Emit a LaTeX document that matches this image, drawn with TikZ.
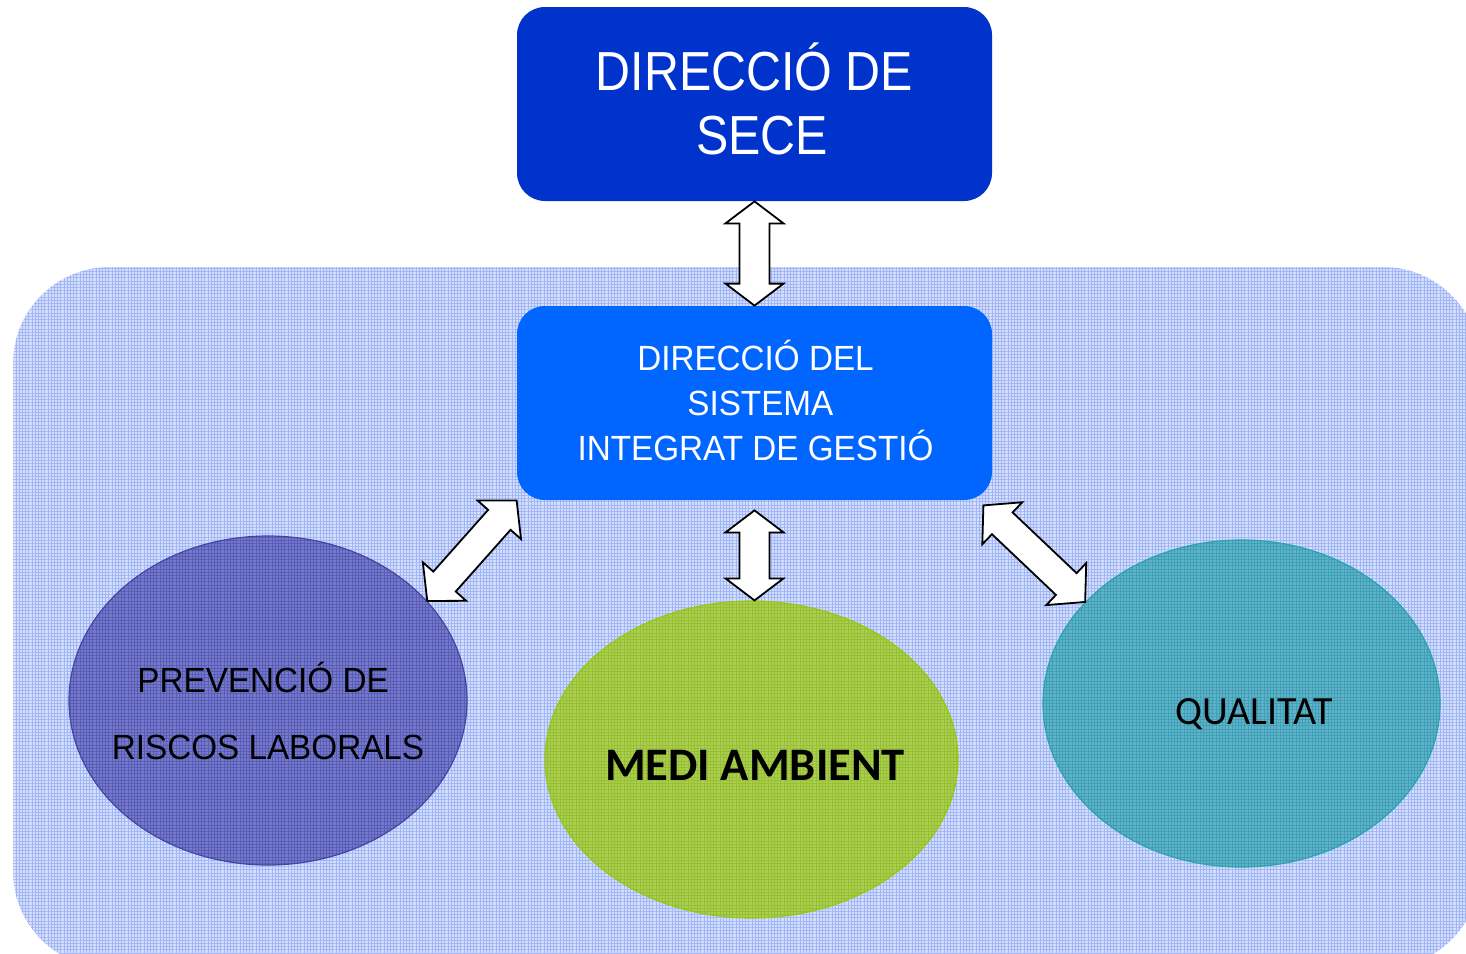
\documentclass[tikz,border=0pt]{standalone}
\usepackage{fontspec}
\usetikzlibrary{calc,shapes.geometric,patterns.meta}
\newfontfamily\condtop{Liberation Sans}[FakeStretch=0.88]
\newfontfamily\cond{Liberation Sans}[FakeStretch=0.95]
\newfontfamily\cali{Carlito}
\definecolor{bgfill}{RGB}{213,223,252}
\definecolor{bgline}{RGB}{160,182,246}
\definecolor{topblue}{RGB}{0,51,204}
\definecolor{midblue}{RGB}{0,102,255}
\definecolor{prlfill}{RGB}{118,122,205}
\definecolor{prlline}{RGB}{88,92,180}
\definecolor{prledge}{RGB}{70,70,160}
\definecolor{envfill}{RGB}{172,206,82}
\definecolor{envline}{RGB}{150,192,50}
\definecolor{envedge}{RGB}{150,200,20}
\definecolor{quafill}{RGB}{98,178,202}
\definecolor{qualine}{RGB}{62,160,182}
\definecolor{quaedge}{RGB}{40,165,170}
\tikzset{
  boxshape/.style={rectangle, rounded corners=14pt, inner sep=0pt,
    minimum width=237.5pt, minimum height=97pt},
  ellshape/.style={ellipse, inner sep=0pt, line width=0.6pt},
  twoarrow/.style={draw=black, fill=white, line width=0.9pt, line join=miter},
  gridfill/.style={preaction={fill=#1fill},
    pattern={Hatch[angle=0,distance=1.6pt,line width=0.35pt]}, pattern color=#1line}
}
\newcommand\twoway[3]{%
  \coordinate (tw1) at ($(#1)!#3!(#2)$);
  \coordinate (tw2) at ($(#2)!#3!(#1)$);
  \draw[twoarrow] (#1) -- ($(tw1)!14.5pt!90:(#2)$) -- ($(tw1)!7.5pt!90:(#2)$)
    -- ($(tw2)!7.5pt!-90:(#1)$) -- ($(tw2)!14.5pt!-90:(#1)$) -- (#2)
    -- ($(tw2)!14.5pt!90:(#1)$) -- ($(tw2)!7.5pt!90:(#1)$)
    -- ($(tw1)!7.5pt!-90:(#2)$) -- ($(tw1)!14.5pt!-90:(#2)$) -- cycle;
}
\begin{document}
\begin{tikzpicture}[x=0.5pt,y=-0.5pt]
\useasboundingbox (0,0) rectangle (1466,953);
\clip (0,0) rectangle (1466,953);
\fill[white] (0,0) rectangle (1466,953);
% background panel
\path[gridfill=bg, rounded corners=48.5pt] (13,267) rectangle (1480,968);
% boxes
\node[boxshape, fill=topblue] (top) at (754.5,104) {};
\node[boxshape, fill=midblue] (mid) at (754.5,403) {};
\node[text=white, align=center, font=\condtop\fontsize{27.5pt}{32pt}\selectfont] (toptxt) at (762,98.5) {DIRECCIÓ DE\kern0.278em\\SECE};
\node[text=white, align=center, font=\cond\fontsize{17.5pt}{22.5pt}\selectfont] (midtxt) at (755.5,400.5) {DIRECCIÓ DEL\\\kern0.278em SISTEMA\\INTEGRAT DE GESTIÓ};
% ellipses
\node[ellshape, gridfill=prl, draw=prledge, minimum width=199pt, minimum height=164.5pt] (prl) at (268,700.5) {};
\node[ellshape, gridfill=env, draw=envedge, minimum width=206.5pt, minimum height=158.5pt] (env) at (751.5,759.5) {};
\node[ellshape, gridfill=qua, draw=quaedge, minimum width=198.5pt, minimum height=163.5pt] (qua) at (1241.5,703.5) {};
\node[text=black, align=center, font=\cond\fontsize{17.5pt}{33.5pt}\selectfont] (prltxt) at (268,711) {PREVENCIÓ DE\kern0.278em\\RISCOS LABORALS};
\node[text=black, anchor=base, inner sep=0pt, font=\cali\bfseries\fontsize{23.3pt}{28pt}\selectfont] (envtxt) at (755,780) {MEDI AMBIENT};
\node[text=black, anchor=base, inner sep=0pt, font=\cali\fontsize{20pt}{24pt}\selectfont] (quatxt) at (1254.5,724) {QUALITAT};
% connectors
\coordinate (a1s) at (top.south);
\coordinate (a1e) at (mid.north);
\coordinate (a2s) at ($(mid.south)+(0,10)$);
\coordinate (a2e) at (env.north -| mid.south);
\coordinate (a3s) at (mid.south west);
\coordinate (a3e) at (prl.32);
\coordinate (a4s) at ($(mid.south east)+(-9,5)$);
\coordinate (a4e) at (qua.147);
\twoway{a1s}{a1e}{11pt}
\twoway{a2s}{a2e}{11pt}
\twoway{a3s}{a3e}{13pt}
\twoway{a4s}{a4e}{13pt}
\end{tikzpicture}
\end{document}
